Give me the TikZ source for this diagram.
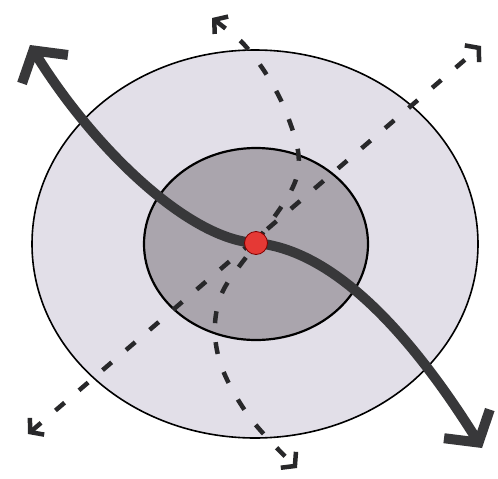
\documentclass[tikz,border=0pt]{standalone}
\usetikzlibrary{arrows.meta,shapes.geometric}
\definecolor{outerfill}{RGB}{226,223,232}
\definecolor{innerfill}{RGB}{170,165,173}
\definecolor{curvecol}{RGB}{56,56,58}
\definecolor{dashcol}{RGB}{40,40,42}
\definecolor{dotred}{RGB}{229,57,53}
\tikzset{
  region/.style={ellipse, draw=black, inner sep=0pt},
  thickarrow/.style={draw=curvecol, line width=10pt,
    {Straight Barb[sharp,length=22pt,width=54pt]}-{Straight Barb[sharp,length=22pt,width=54pt]}},
  dasharrow/.style={draw=dashcol, line width=4.5pt, dash pattern=on 12pt off 19pt,
    {Straight Barb[sharp,length=9pt,width=22pt]}-{Straight Barb[sharp,length=9pt,width=22pt]}},
}
\begin{document}
\begin{tikzpicture}[x=1pt,y=-1pt]
\useasboundingbox (0,0) rectangle (498,479);
\fill[white] (0,0) rectangle (498,479);
% regions
\node[region, fill=outerfill, line width=1.6pt, minimum width=446pt, minimum height=388pt] (outer) at (255,244) {};
\node[region, fill=innerfill, line width=2.2pt, minimum width=224pt, minimum height=192pt] (inner) at (256,244) {};
% named points
\coordinate (c) at (256,243);
\coordinate (d1a) at (28,434);
\coordinate (d1b) at (481,46);
\coordinate (d2a) at (212,18);
\coordinate (p1) at (255,58);
\coordinate (p2) at (288,117);
\coordinate (p3) at (297,176);
\coordinate (p4) at (220,298);
\coordinate (p5) at (218,355);
\coordinate (p6) at (248,415);
\coordinate (d2b) at (297,468);
\coordinate (ta) at (30,45);
\coordinate (tb) at (482,448);
% dashed lines
\draw[dasharrow] (d1a) -- (d1b);
\draw[dasharrow] plot[smooth, tension=0.6] coordinates {(d2a) (p1) (p2) (p3) (c) (p4) (p5) (p6) (d2b)};
% thick curve
\draw[thickarrow] (ta) .. controls (95,150) and (190,240) .. (c)
  .. controls (330,250) and (405,325) .. (tb);
% red dot
\node[circle, fill=dotred, draw=red!50!black, line width=0.8pt, minimum size=23pt, inner sep=0pt] (dot) at (c) {};
\end{tikzpicture}
\end{document}
